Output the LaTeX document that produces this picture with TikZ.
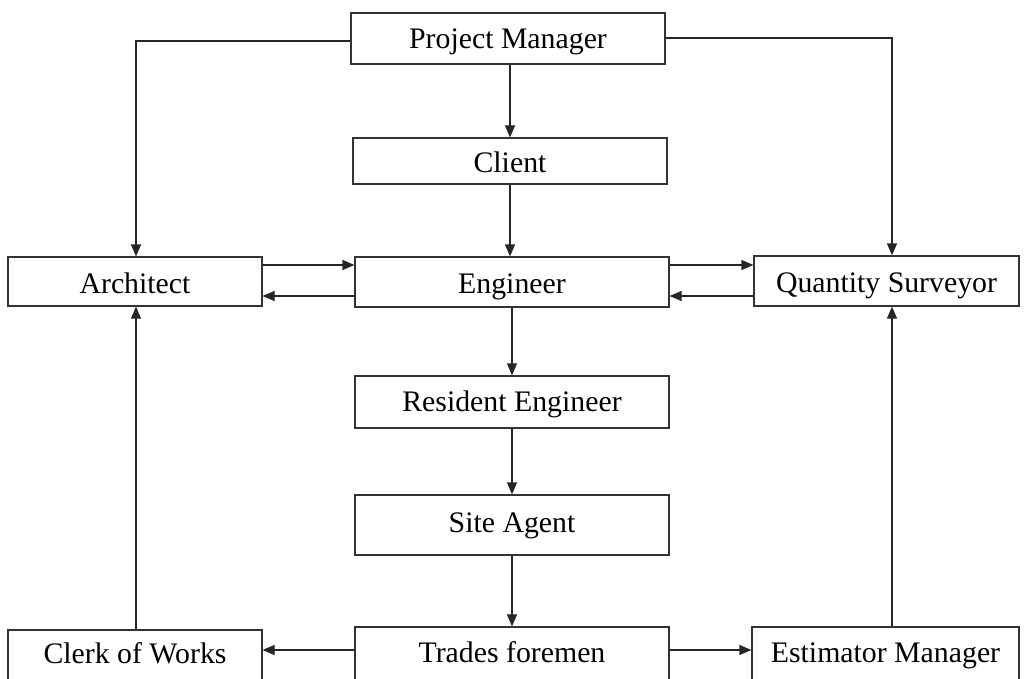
\documentclass[tikz,border=0pt]{standalone}
\usepackage{fontspec}
\setmainfont{Liberation Serif}
\usetikzlibrary{arrows.meta}
\begin{document}
\begin{tikzpicture}[x=1pt,y=-1pt,
  box/.style={draw=black!80, line width=1.2pt, inner sep=0pt, font=\fontsize{29.8}{34}\selectfont, text=black, text depth=0pt, text height=22pt},
  arr/.style={draw=black!85, line width=1.2pt, -{Triangle[length=12pt,width=10pt]}}]
\useasboundingbox (0,0) rectangle (1027,679);
\clip (0,0) rectangle (1027,679);
\fill[white] (0,0) rectangle (1027,679);
\node[box, text height=20pt, minimum width=314pt, minimum height=51pt] (pm) at (508,38.5) {Project Manager};
\node[box, text height=24pt, minimum width=314pt, minimum height=46pt] (client) at (510,161) {Client};
\node[box, text height=23pt, minimum width=254pt, minimum height=49pt] (arch) at (135,281.5) {Architect};
\node[box, text height=22pt, minimum width=314pt, minimum height=50pt] (eng) at (512,282) {Engineer};
\node[box, text height=23pt, minimum width=265pt, minimum height=50pt] (qs) at (886.5,281) {Quantity Surveyor};
\node[box, text height=18pt, minimum width=314pt, minimum height=52pt] (re) at (512,402) {Resident Engineer};
\node[box, text height=14pt, minimum width=314pt, minimum height=60pt] (sa) at (512,525) {Site Agent};
\node[box, text height=14pt, minimum width=314pt, minimum height=56pt] (tf) at (512,655) {Trades foremen};
\node[box, text height=12pt, minimum width=254pt, minimum height=54pt] (clerk) at (135,657) {Clerk of Works};
\node[box, text height=14pt, minimum width=267pt, minimum height=56pt] (est) at (885.5,655) {Estimator Manager};
% top connectors
\draw[arr] ([yshift=-2.5pt]pm.west) -| ([xshift=1pt]arch.north);
\draw[arr] ([yshift=0.5pt]pm.east) -| ([xshift=5.5pt]qs.north);
\draw[arr] (client.north |- pm.south) -- (client.north);
\draw[arr] (client.south) -- (client.south |- eng.north);
% horizontal pairs
\draw[arr] ([yshift=16.5pt]arch.east) -- ([yshift=16.5pt]arch.east -| eng.west);
\draw[arr] ([yshift=-14pt]eng.west) -- ([yshift=-14pt]eng.west -| arch.east);
\draw[arr] ([yshift=17pt]eng.east) -- ([yshift=17pt]eng.east -| qs.west);
\draw[arr] ([yshift=-15pt]qs.west) -- ([yshift=-15pt]qs.west -| eng.east);
% chain
\draw[arr] (eng.south) -- (re.north);
\draw[arr] (re.south) -- (sa.north);
\draw[arr] (sa.south) -- (tf.north);
% bottom
\draw[arr] ([yshift=5pt]tf.west) -- ([yshift=5pt]tf.west -| clerk.east);
\draw[arr] ([yshift=5pt]tf.east) -- ([yshift=5pt]tf.east -| est.west);
\draw[arr] ([xshift=1pt]clerk.north) -- ([xshift=1pt]arch.south);
\draw[arr] ([xshift=6.5pt]est.north) -- ([xshift=6.5pt]est.north |- qs.south);
\end{tikzpicture}
\end{document}
